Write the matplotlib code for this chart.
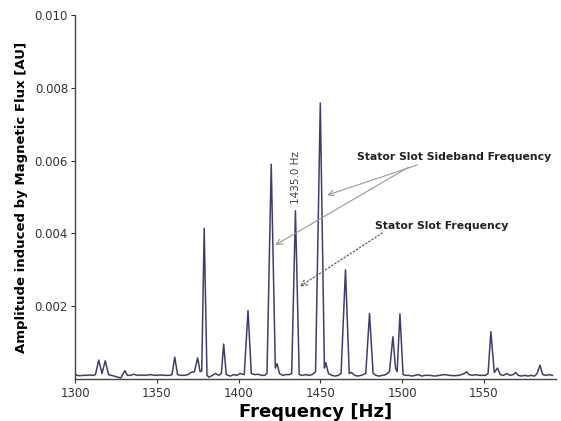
import numpy as np
import matplotlib
matplotlib.use("Agg")
import matplotlib.pyplot as plt

# spectrum (Hz, AU)
freq = [1300, 1301, 1303, 1305, 1307, 1309, 1311, 1312.5, 1314.5, 1316.5, 1318.5, 1320.5,
        1322, 1324, 1326, 1328, 1330.5, 1332, 1334, 1336, 1338, 1340, 1343, 1346, 1349,
        1352, 1355, 1358, 1359.3, 1361, 1362.7, 1365, 1367, 1369, 1371, 1373, 1375, 1376.5,
        1377.5, 1379, 1380.7, 1382, 1384, 1386, 1388, 1389.5, 1390.9, 1392.5, 1395, 1397,
        1399, 1401, 1403.5, 1405.8, 1407.8, 1410, 1412, 1414, 1416, 1417.4, 1420, 1422.5,
        1423.6, 1425, 1427, 1429, 1431, 1432.5, 1434.8, 1437.1, 1439, 1441, 1443, 1445, 1447.1,
        1450, 1452.5, 1453.3, 1455, 1457, 1459, 1461, 1462.7, 1465.4, 1467.7, 1469, 1471,
        1473, 1475, 1477.8, 1480.1, 1482.3, 1484, 1486, 1488, 1490, 1492.3, 1494.4, 1496,
        1497, 1498.7, 1500.6, 1502, 1504, 1506, 1508, 1510, 1512, 1514, 1517, 1520, 1523,
        1526, 1529, 1532, 1535, 1538, 1539.6, 1541, 1543, 1545, 1547, 1549, 1551, 1552.6,
        1554.3, 1556.4, 1558.4, 1560, 1562, 1564, 1566, 1568, 1569.5, 1571, 1573, 1575,
        1577, 1579, 1581, 1582.6, 1584.3, 1586, 1588, 1590, 1592]
amp = [0.00015, 0.0001, 0.00009, 0.0001, 0.0001, 0.00011, 0.0001, 0.00012, 0.00052, 0.00015,
       0.0005, 0.00012, 0.0001, 0.00008, 0.00005, 0.00003, 0.00023, 0.0001, 0.0001, 0.00013,
       0.0001, 0.00011, 0.0001, 0.00012, 0.0001, 0.00011, 0.0001, 0.0001, 0.00012, 0.0006,
       0.00012, 0.0001, 0.0001, 0.00012, 0.00018, 0.0002, 0.00058, 0.0002, 0.00022, 0.00414,
       0.0001, 0.00005, 0.0001, 0.00015, 0.0001, 0.00015, 0.00096, 0.00012, 0.00008, 0.00012,
       0.0001, 0.00015, 0.00012, 0.00188, 0.00015, 0.00012, 0.00013, 0.0001, 0.0001, 0.00015,
       0.0059, 0.0003, 0.00042, 0.00015, 0.0001, 0.00012, 0.00012, 0.00015, 0.00462, 0.00012,
       0.0001, 0.00012, 0.0001, 0.00012, 0.0002, 0.00758, 0.0003, 0.00045, 0.00015, 0.0001,
       0.00008, 0.0001, 0.00015, 0.0030, 0.00015, 0.00018, 0.0001, 0.00008, 0.0001, 0.00015,
       0.0018, 0.00015, 0.0001, 0.00008, 0.0001, 0.00012, 0.0002, 0.00116, 0.0003, 0.0002,
       0.00179, 0.00012, 0.0001, 0.0001, 0.00008, 0.0001, 0.00012, 0.00008, 0.0001, 0.0001,
       0.00008, 0.0001, 0.00012, 0.0001, 0.00009, 0.0001, 0.00015, 0.0002, 0.00012, 0.0001,
       0.00012, 0.0001, 0.0001, 0.0001, 0.00015, 0.0013, 0.00018, 0.0003, 0.00012, 0.0001,
       0.00015, 0.0001, 0.00012, 0.00018, 0.0001, 0.00008, 0.0001, 0.00008, 0.0001, 0.00008,
       0.00015, 0.00038, 0.00012, 0.0001, 0.00012, 0.0001]

xticks = [1300, 1350, 1400, 1450, 1500, 1550]
yticks = [0.002, 0.004, 0.006, 0.008, 0.010]

fig = plt.figure(figsize=(5.61, 4.21), dpi=100)
ax = fig.add_axes([0.1337, 0.0998, 0.857, 0.8646])

ax.plot(freq, amp, color='#3e3e6e', lw=1.1)

ax.set_xlim(1300, 1594)
ax.set_ylim(0, 0.010)
ax.set_xticks(xticks)
ax.set_yticks(yticks)
ax.set_yticklabels(['%.3f' % v for v in yticks])
ax.tick_params(axis='both', labelsize=8.5, colors='#333333', length=3, width=0.8, pad=2)
ax.tick_params(axis='x', pad=3)

for s in ['top', 'right']:
  ax.spines[s].set_visible(False)
for s in ['left', 'bottom']:
  ax.spines[s].set_color('#444444')
  ax.spines[s].set_linewidth(1.0)

ax.set_xlabel('Frequency [Hz]', fontsize=13, fontweight='bold', labelpad=2)
ax.set_ylabel('Amplitude induced by Magnetic Flux [AU]', fontsize=9.5, fontweight='bold', labelpad=5)

# peak label
ax.text(1435, 0.0048, '1435.0 Hz', rotation=90, ha='center', va='bottom',
        fontsize=7.5, color='#444444')

# annotations
ax.text(1472.2, 0.0061, 'Stator Slot Sideband Frequency', fontsize=7.8, fontweight='bold',
        ha='left', va='center', color='#222222', clip_on=False)
ax.text(1483.2, 0.0042, 'Stator Slot Frequency', fontsize=7.8, fontweight='bold',
        ha='left', va='center', color='#222222')

ax.annotate('', xy=(1454.2, 0.00505), xytext=(1509.4, 0.00588),
            arrowprops=dict(arrowstyle='->', color='#999999', lw=0.8, shrinkA=0, shrinkB=0))
ax.annotate('', xy=(1422.5, 0.00368), xytext=(1504, 0.00582),
            arrowprops=dict(arrowstyle='->', color='#999999', lw=0.8, shrinkA=0, shrinkB=0))
ax.annotate('', xy=(1437.4, 0.00254), xytext=(1487.9, 0.00401),
            arrowprops=dict(arrowstyle='->', color='#666666', lw=1.0, ls=':',
                            shrinkA=0, shrinkB=0))

fig.savefig('out.png', dpi=100)
